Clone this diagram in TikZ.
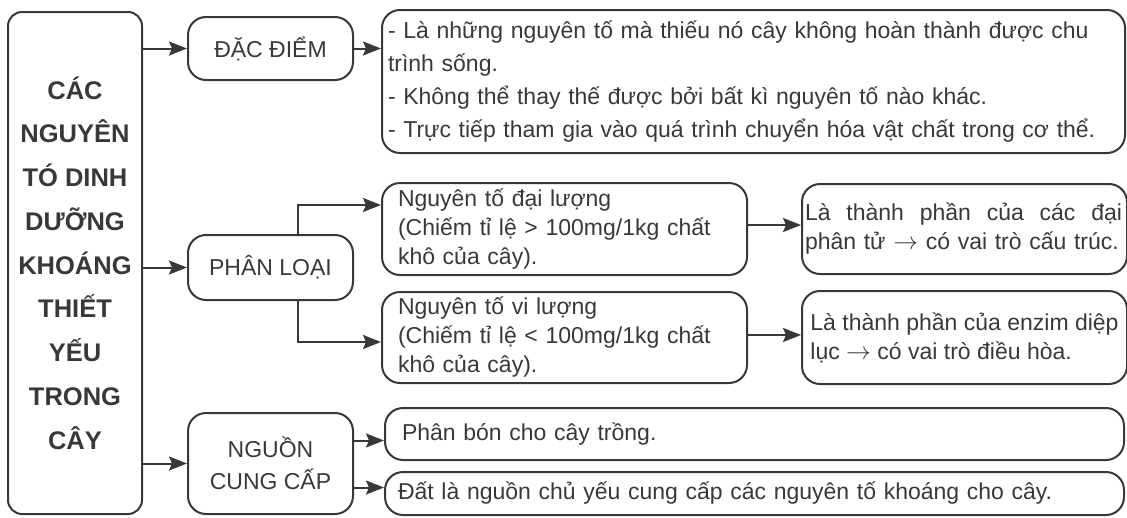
\documentclass[tikz,border=0pt]{standalone}
\usepackage{fontspec}
\setmainfont{Liberation Sans}
\usepackage{xcolor}
\usepackage{tikz}
\usetikzlibrary{arrows.meta, positioning}
\definecolor{ink}{HTML}{383838}

\begin{document}
\begin{tikzpicture}[
    x=1pt, y=-1pt,
    color=ink,
    line width=2pt,
    node distance=53pt and 53pt,
    font=\fontsize{23}{29}\selectfont,
    root/.style={draw, rounded corners=14pt, align=center, minimum width=134pt, minimum height=502pt, font=\bfseries\fontsize{25.5}{43.75}\selectfont},
    head/.style={draw, rounded corners=18pt, align=center, minimum width=165pt},
    info/.style={draw, rounded corners=18pt, align=left, inner xsep=6pt},
    arrow/.style={-{Stealth[length=18pt, width=14pt, inset=3pt]}, line width=2pt}
]
\useasboundingbox (0,0) rectangle (1127,517);

\node[root] (root) at (75,263) {CÁC\\NGUYÊN\\TÓ DINH\\DƯỠNG\\KHOÁNG\\THIẾT\\YẾU\\TRONG\\CÂY};

\node[head, minimum height=63pt] (dacdiem) at (270.5,48.5) {ĐẶC ĐIỂM};
\node[head, minimum height=65pt] (phanloai) at (270.5,267.5) {PHÂN LOẠI};
\node[head, minimum height=101pt, font=\fontsize{23}{32}\selectfont] (nguon) at (270.5,463.5) {NGUỒN\\CUNG CẤP};

\node[info, text width=731pt, minimum height=143pt, font=\fontsize{23}{33}\selectfont] (ddtext) at (753.5,81.5) {- Là những nguyên tố mà thiếu nó cây không hoàn thành được chu\\trình sống.\\- Không thể thay thế được bởi bất kì nguyên tố nào khác.\\- Trực tiếp tham gia vào quá trình chuyển hóa vật chất trong cơ thể.};

\node[info, inner xsep=16pt, text width=333pt, minimum height=92pt] (dailuong) at (564.5,229) {Nguyên tố đại lượng\\(Chiếm tỉ lệ > 100mg/1kg chất\\khô của cây).};
\node[info, inner xsep=16pt, text width=333pt, minimum height=91pt] (viluong) at (564.5,337.5) {Nguyên tố vi lượng\\(Chiếm tỉ lệ < 100mg/1kg chất\\khô của cây).};

\node[info, inner xsep=3pt, text width=319pt, minimum height=90pt, right=of dailuong] (dlrole) {\hbox to 317pt{Là\hfill thành\hfill phần\hfill của\hfill các\hfill đại}\\phân tử $\rightarrow$ có vai trò cấu trúc.};
\node[info, inner xsep=4pt, minimum width=325pt, minimum height=93pt, right=of viluong] (virole) {Là thành phần của enzim diệp\\lục $\rightarrow$ có vai trò điều hòa.};

\node[info, inner xsep=17pt, text width=705pt, minimum height=52pt] (phanbon) at (754.5,434) {Phân bón cho cây trồng.};
\node[info, inner xsep=13pt, text width=713pt, minimum height=43pt] (dat) at (754.5,493.5) {Đất là nguồn chủ yếu cung cấp các nguyên tố khoáng cho cây.};

% root to headings
\draw[arrow] (root.east |- dacdiem) -- (dacdiem);
\draw[arrow] (root.east |- phanloai) -- (phanloai);
\draw[arrow] (root.east |- nguon) -- (nguon);

\draw[arrow] (dacdiem) -- (dacdiem -| ddtext.west);

% phan loai branches
\draw[arrow] ([xshift=27.5pt]phanloai.north) |- ([yshift=24pt]dailuong.west);
\draw[arrow] ([xshift=27.5pt]phanloai.south) |- ([yshift=-4.5pt]viluong.west);
\draw[arrow] ([yshift=4pt]dailuong.east) -- ([yshift=4pt]dailuong.east -| dlrole.west);
\draw[arrow] ([yshift=2.5pt]viluong.east) -- ([yshift=2.5pt]viluong.east -| virole.west);

% nguon cung cap
\draw[arrow] ([yshift=23pt]nguon.east) -- ([yshift=23pt]nguon.east -| phanbon.west);
\draw[arrow] ([yshift=-24pt]nguon.east) -- ([yshift=-24pt]nguon.east -| dat.west);

\end{tikzpicture}
\end{document}
